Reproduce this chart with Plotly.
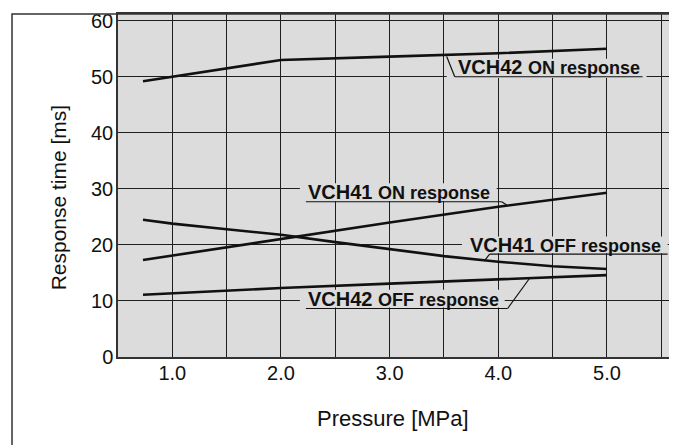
import plotly.graph_objects as go

# ---------------- data ----------------
vch42_on_x = [0.73, 2.0, 3.0, 4.0, 5.0]
vch42_on_y = [49.2, 53.0, 53.6, 54.2, 55.0]

vch41_on_x = [0.73, 2.0, 3.0, 4.0, 5.0]
vch41_on_y = [17.3, 21.1, 24.0, 26.8, 29.3]

vch41_off_x = [0.73, 1.0, 1.5, 2.0, 2.5, 3.0, 3.5, 4.0, 4.5, 5.0]
vch41_off_y = [24.5, 23.8, 22.8, 21.8, 20.5, 19.3, 18.0, 17.0, 16.2, 15.7]

vch42_off_x = [0.73, 2.0, 3.0, 4.0, 5.0]
vch42_off_y = [11.1, 12.3, 13.1, 13.8, 14.6]

x_tick_vals = [1.0, 1.5, 2.0, 2.5, 3.0, 3.5, 4.0, 4.5, 5.0, 5.5]
x_tick_text = ["1.0", "", "2.0", "", "3.0", "", "4.0", "", "5.0", ""]
y_tick_vals = [0, 10, 20, 30, 40, 50, 60]
y_tick_text = ["0", "10", "20", "30", "40", "50", "60"]

series_names = ["VCH42", "VCH41", "VCH41", "VCH42"]
series_kinds = ["ON response", "ON response", "OFF response", "OFF response"]

# ---------------- styling ----------------
FONT = "Liberation Sans, Arial, Helvetica, sans-serif"
PLOT_BG = "#dcdcdc"
GRID = "#1e1e1e"
INK = "#111111"

fig = go.Figure()
for xs, ys in [(vch42_on_x, vch42_on_y), (vch41_on_x, vch41_on_y),
               (vch41_off_x, vch41_off_y), (vch42_off_x, vch42_off_y)]:
    fig.add_trace(go.Scatter(x=xs, y=ys, mode="lines",
                             line=dict(color=INK, width=2.6),
                             showlegend=False, hoverinfo="skip"))

# label layout (data coordinates)
labels = [
    dict(tx=3.608, ty=51.8, box=(3.525, 5.364, 49.8, 53.2),
         ul=(3.599, 5.328, 50.0), ld=((3.599, 50.0), (3.525, 53.6))),
    dict(tx=2.229, ty=29.5, box=(2.174, 3.985, 27.8, 31.0),
         ul=(2.229, 4.031, 27.7), ld=((4.031, 27.7), (4.077, 27.1))),
    dict(tx=3.72, ty=19.95, box=(3.665, 5.558, 18.5, 21.5),
         ul=(3.92, 5.558, 18.35), ld=((3.92, 18.35), (3.875, 17.25))),
    dict(tx=2.229, ty=10.35, box=(2.174, 4.059, 8.85, 12.0),
         ul=(2.229, 4.086, 8.65), ld=((4.086, 8.65), (4.288, 14.05))),
]

shapes = []
annotations = []
for name, kind, lb in zip(series_names, series_kinds, labels):
    bx0, bx1, by0, by1 = lb["box"]
    shapes.append(dict(type="rect", xref="x", yref="y", x0=bx0, x1=bx1, y0=by0, y1=by1,
                       fillcolor=PLOT_BG, line=dict(width=0), layer="between"))
    ux0, ux1, uy = lb["ul"]
    shapes.append(dict(type="line", xref="x", yref="y", x0=ux0, x1=ux1, y0=uy, y1=uy,
                       line=dict(color=INK, width=1.2), layer="above"))
    (lx0, ly0), (lx1, ly1) = lb["ld"]
    shapes.append(dict(type="line", xref="x", yref="y", x0=lx0, x1=lx1, y0=ly0, y1=ly1,
                       line=dict(color=INK, width=1.2), layer="above"))
    annotations.append(dict(
        x=lb["tx"], y=lb["ty"], xref="x", yref="y", xanchor="left", yanchor="middle",
        showarrow=False,
        text=f"<b>{name}</b> <b><span style='font-size:18px'>{kind}</span></b>",
        font=dict(family=FONT, size=20, color=INK)))

# outer frame
shapes.append(dict(type="rect", xref="paper", yref="paper", x0=-0.192, x1=1.0, y0=-0.35, y1=1.0,
                   line=dict(color="#333333", width=1.5), fillcolor="rgba(0,0,0,0)", layer="above"))

annotations.append(dict(x=-0.1322, y=0.464, xref="paper", yref="paper", showarrow=False,
                        text="Response time [ms]", textangle=-90,
                        font=dict(family=FONT, size=21, color=INK)))
annotations.append(dict(x=0.498, y=-0.179, xref="paper", yref="paper", showarrow=False,
                        text="Pressure [MPa]", xanchor="center", yanchor="middle",
                        font=dict(family=FONT, size=22, color=INK)))

fig.update_layout(
    width=669, height=437,
    margin=dict(l=110, r=7, t=2, b=88),
    paper_bgcolor="white",
    plot_bgcolor=PLOT_BG,
    font=dict(family=FONT, size=20, color=INK),
    shapes=shapes,
    annotations=annotations,
    xaxis=dict(range=[0.5, 5.58], tickvals=x_tick_vals, ticktext=x_tick_text,
               showgrid=True, gridcolor=GRID, gridwidth=1,
               showline=True, mirror=True, linecolor="#333333", linewidth=1.5,
               zeroline=False, ticks="", ticklabelstandoff=-3,
               ticklabeloverflow="allow",
               tickfont=dict(family=FONT, size=20, color=INK)),
    yaxis=dict(range=[0, 61.2], tickvals=y_tick_vals, ticktext=y_tick_text,
               showgrid=True, gridcolor=GRID, gridwidth=1,
               showline=True, mirror=True, linecolor="#333333", linewidth=1.5,
               zeroline=False, ticks="", ticklabelstandoff=-1,
               ticklabeloverflow="allow",
               tickfont=dict(family=FONT, size=20, color=INK)),
)

fig.write_html("out.html")
